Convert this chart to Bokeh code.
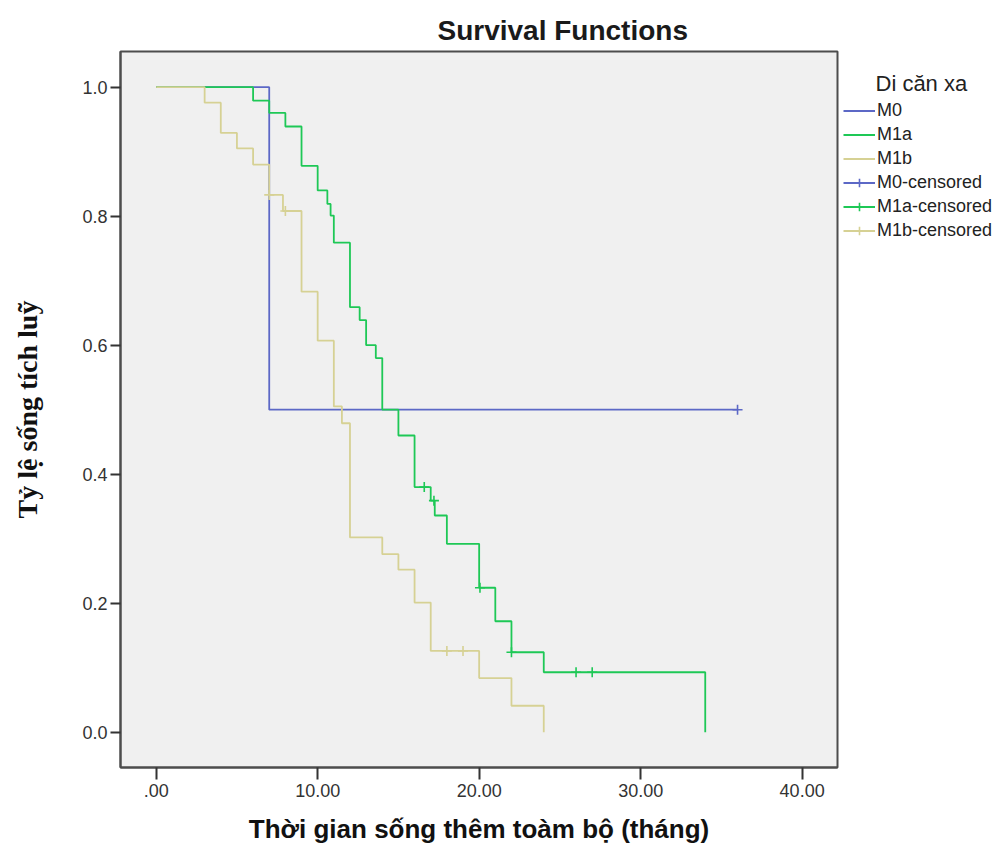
from bokeh.plotting import figure
from bokeh.layouts import row
from bokeh.models import Legend, LegendItem, FixedTicker, Label, Range1d
from bokeh.embed import file_html
from bokeh.resources import INLINE

# ---------------- data ----------------
groups = ["M0", "M1a", "M1b"]

m0_time = [0, 7, 36]
m0_surv = [1.0, 0.5, 0.5]
m0_cens_time = [36]
m0_cens_surv = [0.5]

m1a_time = [0, 6, 7, 8, 9, 10, 10.6, 10.8, 11, 12, 12.6, 13, 13.6, 14, 15, 16, 17,
            17.25, 18, 20, 21, 22, 24, 34]
m1a_surv = [1.0, 0.979, 0.960, 0.939, 0.878, 0.840, 0.819, 0.801, 0.759, 0.659, 0.639,
            0.600, 0.580, 0.500, 0.460, 0.380, 0.359, 0.336, 0.292, 0.224, 0.172, 0.124,
            0.093, 0.0]
m1a_cens_time = [16.6, 17.2, 20.05, 22, 26, 27]
m1a_cens_surv = [0.380, 0.359, 0.224, 0.124, 0.093, 0.093]

m1b_time = [0, 3, 4, 5, 6, 7, 7.85, 9, 10, 11, 11.5, 12, 14, 15, 16, 17, 20, 22, 24]
m1b_surv = [1.0, 0.976, 0.929, 0.905, 0.880, 0.833, 0.808, 0.683, 0.607, 0.505, 0.479,
            0.302, 0.276, 0.252, 0.201, 0.126, 0.084, 0.041, 0.0]
m1b_cens_time = [7, 8, 18, 19]
m1b_cens_surv = [0.833, 0.808, 0.126, 0.126]

x_ticks = [0, 10, 20, 30, 40]
x_tick_labels = [".00", "10.00", "20.00", "30.00", "40.00"]
y_ticks = [0.0, 0.2, 0.4, 0.6, 0.8, 1.0]
y_tick_labels = ["0.0", "0.2", "0.4", "0.6", "0.8", "1.0"]

title_text = "Survival Functions"
x_label = "Thời gian sống thêm toàm bộ (tháng)"
y_label = "Tỷ lệ sống tích luỹ"
legend_title = "Di căn xa"

# ---------------- styling ----------------
C_M0 = "#5c68c6"
C_M1A = "#1ec856"
C_M1B = "#d6d194"
FONT = "Liberation Sans"
LW = 1.8

p = figure(width=843, height=848, output_backend="svg", toolbar_location=None,
           x_range=Range1d(-2.21, 42.19), y_range=Range1d(-0.0547, 1.0553),
           min_border_left=120, min_border_right=6, min_border_top=51,
           min_border_bottom=81)

p.background_fill_color = "#f0f0f0"
p.border_fill_color = "white"
p.outline_line_color = "#4d4d4d"
p.outline_line_width = 2
p.xgrid.visible = False
p.ygrid.visible = False

p.title.text = title_text
p.title.align = "left"
p.title.offset = 317
p.title.text_font = FONT
p.title.text_font_style = "bold"
p.title.text_font_size = "28px"
p.title.text_color = "#1a1a1a"
p.title.standoff = 12

for ax in (p.xaxis[0], p.yaxis[0]):
    ax.axis_line_color = "#4d4d4d"
    ax.axis_line_width = 2
    ax.major_tick_line_color = "#333333"
    ax.major_tick_line_width = 2
    ax.major_tick_in = 0
    ax.minor_tick_line_color = None
    ax.major_label_text_font = FONT
    ax.major_label_text_font_size = "18px"
    ax.major_label_text_color = "#333333"
    ax.axis_label_text_font_style = "bold"
    ax.axis_label_text_color = "#111111"

p.xaxis.ticker = FixedTicker(ticks=x_ticks)
p.xaxis.major_label_overrides = {t: s for t, s in zip(x_ticks, x_tick_labels)}
p.xaxis.major_tick_out = 12
p.xaxis.major_label_standoff = 4
p.xaxis.axis_label = x_label
p.xaxis.axis_label_text_font = FONT
p.xaxis.axis_label_text_font_size = "26px"
p.xaxis.axis_label_standoff = 14

p.yaxis.ticker = FixedTicker(ticks=y_ticks)
p.yaxis.major_label_overrides = {t: s for t, s in zip(y_ticks, y_tick_labels)}
p.yaxis.major_tick_out = 10
p.yaxis.major_label_standoff = 3
p.yaxis.axis_label = y_label
p.yaxis.axis_label_text_font = "Liberation Serif"
p.yaxis.axis_label_text_font_size = "28px"
p.yaxis.axis_label_standoff = 36

series = [
    (m0_time, m0_surv, m0_cens_time, m0_cens_surv, C_M0),
    (m1a_time, m1a_surv, m1a_cens_time, m1a_cens_surv, C_M1A),
    (m1b_time, m1b_surv, m1b_cens_time, m1b_cens_surv, C_M1B),
]
for t, s, ct, cs, col in series:
    p.step(t, s, mode="after", line_color=col, line_width=LW)
for t, s, ct, cs, col in series:
    p.scatter(ct, cs, marker="cross", size=10, line_color=col, line_width=1.6)

# ---------------- legend panel (right of the plot) ----------------
# its frame is aligned with the main plot frame (y from 51 to 767 px)
lg = figure(width=165, height=848, output_backend="svg", toolbar_location=None,
            x_axis_type=None, y_axis_type=None, x_range=Range1d(100, 101),
            y_range=Range1d(100, 101), min_border=0)
lg.outline_line_color = None
lg.background_fill_color = "white"
lg.border_fill_color = "white"

line_r, cross_r = [], []
for t, s, ct, cs, col in series:
    line_r.append(lg.step(t, s, mode="after", line_color=col, line_width=LW))
    cross_r.append(lg.scatter(ct, cs, marker="cross", size=10, line_color=col,
                              line_width=1.6))

items = [LegendItem(label=g, renderers=[r]) for g, r in zip(groups, line_r)]
items += [LegendItem(label=g + "-censored", renderers=[r, c])
          for g, r, c in zip(groups, line_r, cross_r)]

legend = Legend(items=items, location=(0, 526), margin=0, padding=0,
                spacing=3, glyph_width=32, glyph_height=21, label_height=21,
                label_standoff=2, label_text_font=FONT, label_text_font_size="18px",
                label_text_color="#222222", border_line_alpha=0,
                background_fill_alpha=0)
lg.add_layout(legend, "center")

lg.add_layout(Label(x=32, y=684, x_units="screen", y_units="screen", text=legend_title,
                    text_font=FONT, text_font_size="22px", text_color="#222222",
                    text_baseline="alphabetic"))

layout = row(p, lg, spacing=0)
open("out.html", "w").write(file_html(layout, INLINE))
